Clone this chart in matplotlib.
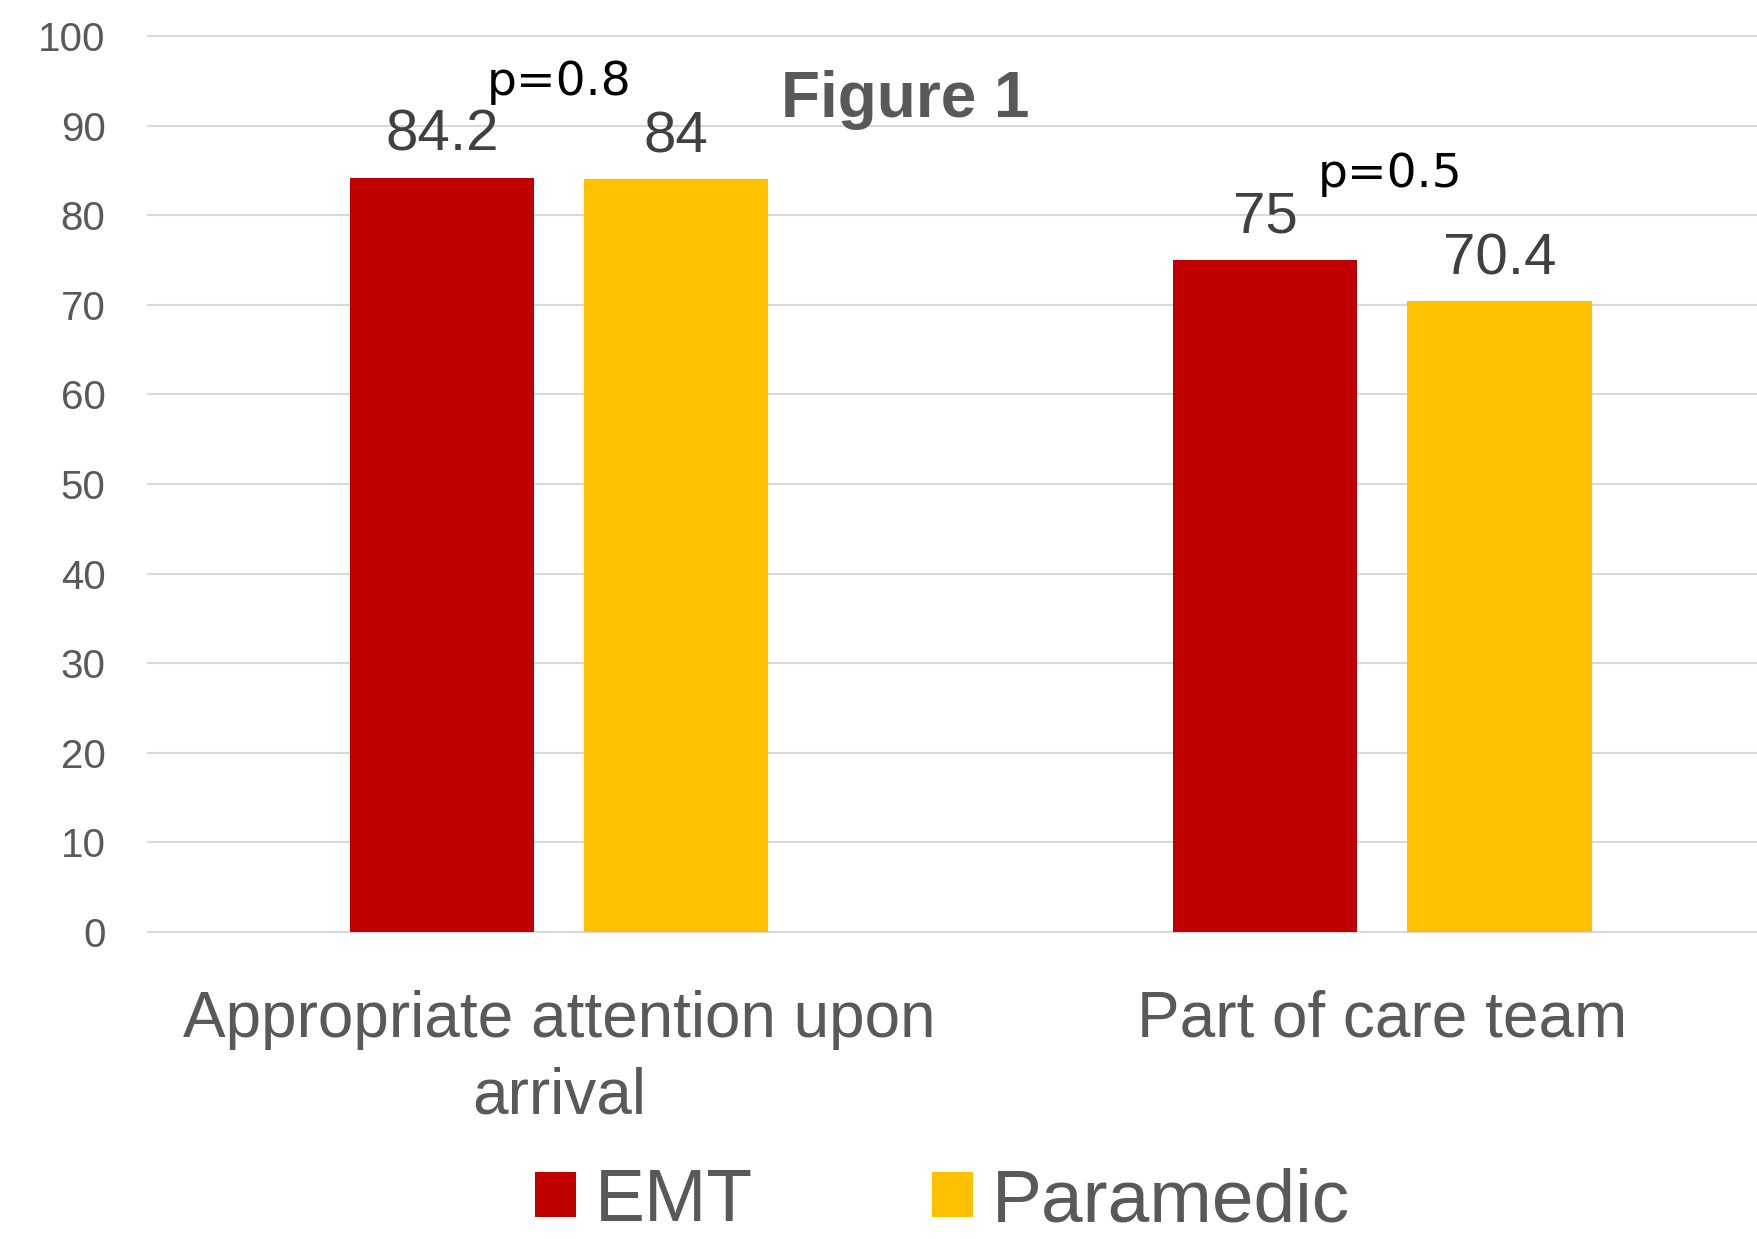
import numpy as np
import matplotlib
matplotlib.use("Agg")
import matplotlib.pyplot as plt

plt.rcParams['font.family'] = ['Liberation Sans', 'DejaVu Sans']

# survey results (percent answering yes)
categories = ["Appropriate attention upon\narrival", "Part of care team"]
series_names = ["EMT", "Paramedic"]
emt_values = [84.2, 75.0]
paramedic_values = [84.0, 70.4]
p_values = ["p=0.8", "p=0.5"]
y_ticks = [0, 10, 20, 30, 40, 50, 60, 70, 80, 90, 100]

COLORS = ["#C00000", "#FFC000"]
GRAY = "#595959"
LABEL_GRAY = "#404040"

BAR_WIDTH = 0.224
OFFSET = 0.1422
# heights (in data units) of the p-value captions
P_LABEL_Y = [93.4, 83.2]
P_LABEL_DX = [0.0, 0.01]

fig = plt.figure(figsize=(17.57, 12.39), dpi=100)
ax = fig.add_axes([0.0838, 0.2405, 1 - 0.0838, 0.9782 - 0.2405])

x = np.arange(len(categories))
bars = []
for i, (vals, name) in enumerate(zip([emt_values, paramedic_values], series_names)):
    pos = x + (i - 0.5) * 2 * OFFSET
    b = ax.bar(pos, vals, BAR_WIDTH, color=COLORS[i], label=name, zorder=3)
    bars.append(b)
    for xp, v in zip(pos, vals):
        ax.annotate(f"{v:g}", (xp, v), xytext=(0, 19.5), textcoords="offset points",
                    ha="center", va="baseline", fontsize=42, color=LABEL_GRAY)

# p-values above each group
for xi, txt, yy, dx in zip(x, p_values, P_LABEL_Y, P_LABEL_DX):
    ax.text(xi + dx, yy, txt, ha="center", va="baseline", fontsize=34,
            color="black", family="DejaVu Sans")

ax.set_xlim(-0.5, 1.455)
ax.set_ylim(-1, 101)
ax.set_yticks(y_ticks)
ax.set_xticks(x)
ax.set_xticklabels(categories, fontsize=46, color=GRAY, linespacing=1.35)
ax.tick_params(axis="y", length=0, pad=30, labelsize=29, labelcolor=GRAY)
ax.tick_params(axis="x", length=0, pad=35)

ax.grid(axis="y", color="#D9D9D9", linewidth=1.5, zorder=0)
ax.set_axisbelow(True)
for s in ax.spines.values():
    s.set_visible(False)

fig.text(0.515, 1 - 116.7 / 1239, "Figure 1", ha="center", va="baseline",
         fontsize=46, fontweight="bold", color=GRAY)

fig.legend(handles=bars, labels=series_names, loc="lower center",
           bbox_to_anchor=(0.5365, -0.028), ncol=2, frameon=False, fontsize=54,
           handlelength=0.547, handleheight=0.547, handletextpad=0.25,
           columnspacing=2.38, borderpad=0, labelcolor=GRAY)

fig.savefig("out.png", dpi=100)
